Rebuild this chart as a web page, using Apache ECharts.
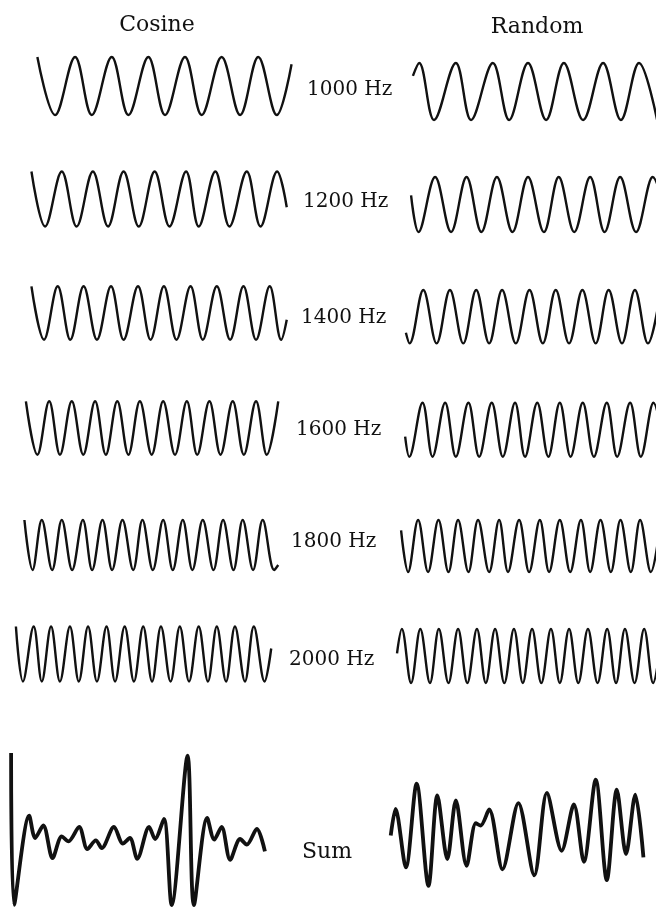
<!DOCTYPE html>
<html>
<head>
<meta charset="utf-8">
<title>Cosine and random phase tones</title>
<script src="https://cdn.jsdelivr.net/npm/echarts@6/dist/echarts.min.js"></script>
<style>
  html, body { margin: 0; padding: 0; background: #fff; }
  #chart { width: 656px; height: 907px; }
</style>
</head>
<body>
<div id="chart"></div>
<script>
// Waveforms: [time (ms), amplitude].
// Tones are given by their peaks (+1) and troughs (-1), sums by their turning points.
const columnTitles = ["Cosine", "Random"];
const toneLabels = ["1000 Hz", "1200 Hz", "1400 Hz", "1600 Hz", "1800 Hz", "2000 Hz"];
const sumLabel = "Sum";

const cos1000 = [[1.01,1],[1.49,-1],[2.03,1],[2.48,-1],[3.02,1],[3.47,-1],[4.01,1],[4.46,-1],[5.0,1],[5.45,-1],[5.99,1],[6.49,-1],[6.98,1],[7.48,-1],[7.88,0.75]];
const cos1200 = [[0.85,1],[1.22,-1],[1.67,1],[2.07,-1],[2.51,1],[2.92,-1],[3.34,1],[3.75,-1],[4.18,1],[4.58,-1],[5.03,1],[5.37,-1],[5.82,1],[6.2,-1],[6.67,1],[7.04,-1],[7.49,1],[7.75,-0.3]];
const cos1400 = [[0.85,1],[1.19,-1],[1.56,1],[1.9,-1],[2.26,1],[2.62,-1],[3.0,1],[3.34,-1],[3.73,1],[4.07,-1],[4.43,1],[4.77,-1],[5.15,1],[5.48,-1],[5.86,1],[6.22,-1],[6.58,1],[6.92,-1],[7.29,1],[7.6,-1],[7.75,-0.25]];
const cos1600 = [[0.7,1],[1.01,-1],[1.33,1],[1.62,-1],[1.94,1],[2.25,-1],[2.57,1],[2.86,-1],[3.17,1],[3.47,-1],[3.78,1],[4.1,-1],[4.41,1],[4.73,-1],[5.05,1],[5.33,-1],[5.66,1],[5.96,-1],[6.29,1],[6.59,-1],[6.92,1],[7.21,-1],[7.52,1]];
const cos1800 = [[0.66,1],[0.88,-1],[1.13,1],[1.41,-1],[1.67,1],[1.95,-1],[2.24,1],[2.49,-1],[2.77,1],[3.03,-1],[3.31,1],[3.6,-1],[3.85,1],[4.13,-1],[4.41,1],[4.67,-1],[4.94,1],[5.2,-1],[5.48,1],[5.77,-1],[6.03,1],[6.31,-1],[6.56,1],[6.84,-1],[7.1,1],[7.41,-1],[7.52,-0.8]];
const cos2000 = [[0.43,1],[0.62,-1],[0.91,1],[1.13,-1],[1.38,1],[1.62,-1],[1.89,1],[2.13,-1],[2.38,1],[2.62,-1],[2.88,1],[3.11,-1],[3.37,1],[3.62,-1],[3.87,1],[4.11,-1],[4.35,1],[4.61,-1],[4.86,1],[5.11,-1],[5.37,1],[5.62,-1],[5.86,1],[6.11,-1],[6.35,1],[6.62,-1],[6.86,1],[7.15,-1],[7.33,0.2]];

const rnd1000 = [[0.89,0.55],[1.06,1],[1.46,-1],[2.05,1],[2.46,-1],[3.05,1],[3.49,-1],[4.0,1],[4.49,-1],[4.97,1],[5.49,-1],[6.03,1],[6.51,-1],[7.0,1],[7.49,-1]];
const rnd1200 = [[0.84,0.33],[1.04,-1],[1.49,1],[1.92,-1],[2.34,1],[2.74,-1],[3.16,1],[3.58,-1],[4.0,1],[4.43,-1],[4.83,1],[5.25,-1],[5.68,1],[6.07,-1],[6.49,1],[6.92,-1],[7.37,1],[7.79,-1]];
const rnd1400 = [[0.7,-0.6],[0.8,-1],[1.17,1],[1.53,-1],[1.89,1],[2.25,-1],[2.6,1],[2.95,-1],[3.3,1],[3.67,-1],[4.04,1],[4.4,-1],[4.75,1],[5.11,-1],[5.47,1],[5.83,-1],[6.18,1],[6.54,-1],[6.89,1],[7.24,-1],[7.59,1]];
const rnd1600 = [[0.68,-0.26],[0.79,-1],[1.15,1],[1.42,-1],[1.76,1],[2.05,-1],[2.39,1],[2.68,-1],[3.02,1],[3.32,-1],[3.65,1],[3.92,-1],[4.25,1],[4.55,-1],[4.86,1],[5.15,-1],[5.48,1],[5.78,-1],[6.13,1],[6.41,-1],[6.76,1],[7.05,-1],[7.39,1],[7.7,-1]];
const rnd1800 = [[0.57,0.6],[0.76,-1],[1.03,1],[1.3,-1],[1.58,1],[1.85,-1],[2.11,1],[2.39,-1],[2.65,1],[2.95,-1],[3.22,1],[3.46,-1],[3.76,1],[4.03,-1],[4.32,1],[4.57,-1],[4.86,1],[5.14,-1],[5.43,1],[5.68,-1],[5.96,1],[6.24,-1],[6.5,1],[6.78,-1],[7.03,1],[7.32,-1],[7.59,1]];
const rnd2000 = [[0.46,0.1],[0.59,1],[0.84,-1],[1.09,1],[1.35,-1],[1.59,1],[1.85,-1],[2.11,1],[2.36,-1],[2.62,1],[2.86,-1],[3.11,1],[3.36,-1],[3.62,1],[3.86,-1],[4.11,1],[4.36,-1],[4.62,1],[4.86,-1],[5.11,1],[5.36,-1],[5.62,1],[5.88,-1],[6.14,1],[6.38,-1],[6.62,1],[6.88,-1],[7.14,1],[7.38,-1],[7.63,1]];

const cosSum = [[0.30,6.0],[0.38,-5.9],[0.79,1.1],[0.95,-0.66],[1.17,0.32],[1.42,-2.24],[1.67,-0.53],[1.85,-0.92],[2.14,0.21],[2.36,-1.53],[2.59,-0.84],[2.75,-1.45],[3.08,0.21],[3.32,-1.1],[3.51,-0.66],[3.71,-2.29],[4.03,0.21],[4.19,-0.74],[4.43,0.84],[4.64,-5.92],[5.07,5.79],[5.24,-5.92],[5.6,0.92],[5.79,-0.79],[5.99,0.21],[6.22,-2.37],[6.49,-0.74],[6.67,-1.18],[6.94,0.05],[7.16,-1.71]];
const rndSum = [[0.29,-0.47],[0.42,1.63],[0.7,-2.97],[0.99,3.61],[1.31,-4.42],[1.55,2.68],[1.82,-2.32],[2.05,2.29],[2.34,-2.84],[2.59,0.5],[2.72,0.32],[2.95,1.58],[3.31,-3.11],[3.74,2.08],[4.17,-3.58],[4.51,2.87],[4.91,-1.66],[5.24,1.97],[5.51,-2.53],[5.83,3.92],[6.13,-3.97],[6.4,3.13],[6.65,-1.92],[6.9,2.74],[7.12,-2.18]];

const cosineTones = [cos1000, cos1200, cos1400, cos1600, cos1800, cos2000];
const randomTones = [rnd1000, rnd1200, rnd1400, rnd1600, rnd1800, rnd2000];

// layout (pixels)
const PX_PER_MS = 37;
const leftCol = { left: 0, width: 300 };
const rightCol = { left: 380, width: 276 };
// vertical centre and half height of each tone trace
const cosRows = [[86, 29], [199, 27.5], [313, 26.7], [428, 26.7], [545, 25], [654, 27.5]];
const rndRows = [[91.5, 28.5], [204.5, 27.5], [316.7, 26.7], [429.7, 27], [546, 26], [656, 27]];
const labelPos = [[307, 90], [303, 202], [301, 318], [296, 430], [291, 542], [289, 660]];
const sumBox = { top: 750.5, height: 155.6, min: -6, max: 6.2 };

const grids = [];
const xAxes = [];
const yAxes = [];
const series = [];

function addPanel(points, col, top, height, yMin, yMax, lineWidth, smooth) {
  const i = grids.length;
  grids.push({ left: col.left, width: col.width, top: top, height: height });
  xAxes.push({ type: "value", gridIndex: i, min: 0, max: col.width / PX_PER_MS, show: false });
  yAxes.push({ type: "value", gridIndex: i, min: yMin, max: yMax, show: false });
  series.push({
    type: "line",
    xAxisIndex: i,
    yAxisIndex: i,
    data: points,
    symbol: "none",
    smooth: smooth,
    clip: false,
    silent: true,
    lineStyle: { color: "#111", width: lineWidth },
  });
}

cosineTones.forEach((tone, i) => {
  const [mid, half] = cosRows[i];
  addPanel(tone, leftCol, mid - half, half * 2, -1, 1, 2.4, 0.36);
});
randomTones.forEach((tone, i) => {
  const [mid, half] = rndRows[i];
  addPanel(tone, rightCol, mid - half, half * 2, -1, 1, 2.4, 0.36);
});
addPanel(cosSum, leftCol, sumBox.top, sumBox.height, sumBox.min, sumBox.max, 3.8, 0.3);
addPanel(rndSum, rightCol, sumBox.top, sumBox.height, sumBox.min, sumBox.max, 3.8, 0.3);

function label(text, x, y, size, align) {
  return {
    type: "text",
    x: x,
    y: y,
    silent: true,
    style: {
      text: text,
      font: size + 'px "DejaVu Serif"',
      fill: "#111",
      align: align,
      textAlign: align,
      verticalAlign: "middle",
      textVerticalAlign: "middle",
    },
  };
}

const texts = [
  label(columnTitles[0], 157, 25, 22, "center"),
  label(columnTitles[1], 537, 27, 22, "center"),
  label(sumLabel, 302, 852, 22, "left"),
];
toneLabels.forEach((t, i) => {
  texts.push(label(t, labelPos[i][0], labelPos[i][1], 20, "left"));
});

const chart = echarts.init(document.getElementById("chart"));
chart.setOption({
  backgroundColor: "#fff",
  animation: false,
  grid: grids,
  xAxis: xAxes,
  yAxis: yAxes,
  series: series,
  graphic: texts,
});
</script>
</body>
</html>
